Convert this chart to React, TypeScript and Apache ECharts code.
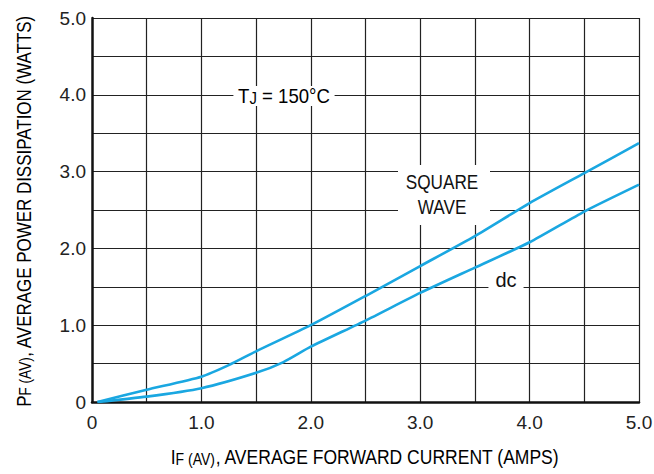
import React, { useEffect, useRef } from "react";
import * as echarts from "echarts";

const currentX = [0.05, 0.5, 1.0, 1.25, 1.5, 2.0, 2.5, 3.0, 3.5, 4.0, 4.5, 5.0];
const squareWave = [0, 0.16, 0.33, 0.48, 0.66, 1.0, 1.38, 1.77, 2.16, 2.59, 2.98, 3.37];
const dcX = [0.05, 0.5, 1.0, 1.5, 1.75, 2.0, 2.5, 3.0, 3.5, 4.0, 4.5, 5.0];
const dcValues = [0, 0.07, 0.18, 0.38, 0.52, 0.72, 1.06, 1.42, 1.75, 2.08, 2.48, 2.83];

const FONT = "'Liberation Sans', Arial, sans-serif";
const LINE_COLOR = "#1aa7e1";

const richSub = {
  m: { fontFamily: FONT, fontSize: 20, color: "#111", lineHeight: 20, verticalAlign: "top" as const },
  s: { fontFamily: FONT, fontSize: 16, color: "#111", lineHeight: 16, verticalAlign: "bottom" as const, padding: [9, 0, 0, 0] },
};

export default function App() {
  const ref = useRef<HTMLDivElement>(null);
  useEffect(() => {
    if (!ref.current) return;
    const chart = echarts.init(ref.current, undefined, { renderer: "svg" });
    const fmt = (v: number) => (Math.abs(v - Math.round(v)) < 1e-6 ? (v === 0 ? "0" : v.toFixed(1)) : "");
    chart.setOption({
      animation: false,
      backgroundColor: "#fff",
      grid: { left: 92, top: 18, right: 15, bottom: 72, outerBoundsMode: "none", containLabel: false },
      xAxis: {
        type: "value",
        min: 0,
        max: 5,
        interval: 0.5,
        axisLine: { show: true, lineStyle: { color: "#111", width: 2.5 } },
        axisTick: { show: false },
        splitLine: { show: true, showMinLine: false, showMaxLine: true, lineStyle: { color: "#222", width: 1.2 } },
        axisLabel: { formatter: fmt, fontFamily: FONT, fontSize: 19, color: "#222", margin: 11, showMaxLabel: true },
      },
      yAxis: {
        type: "value",
        min: 0,
        max: 5,
        interval: 0.5,
        axisLine: { show: true, lineStyle: { color: "#111", width: 2.5 } },
        axisTick: { show: false },
        splitLine: { show: true, showMinLine: false, showMaxLine: true, lineStyle: { color: "#222", width: 1.2 } },
        axisLabel: { formatter: fmt, fontFamily: FONT, fontSize: 19, color: "#222", margin: 6, showMaxLabel: true },
      },
      series: [
        {
          type: "line",
          name: "SQUARE WAVE",
          data: currentX.map((x, i) => [x, squareWave[i]]),
          showSymbol: false,
          smooth: 0.2,
          lineStyle: { color: LINE_COLOR, width: 2.6 },
          z: 5,
        },
        {
          type: "line",
          name: "dc",
          data: dcX.map((x, i) => [x, dcValues[i]]),
          showSymbol: false,
          smooth: 0.2,
          lineStyle: { color: LINE_COLOR, width: 2.6 },
          z: 5,
        },
      ],
      graphic: [
        {
          type: "text",
          x: 365,
          y: 457,
          scaleX: 0.876,
          z: 10,
          style: {
            text: "{m|I}{s|F (AV)}{m|, AVERAGE FORWARD CURRENT (AMPS)}",
            rich: richSub,
            align: "center",
            verticalAlign: "middle",
          },
        },
        {
          type: "group",
          x: 24,
          y: 211,
          rotation: Math.PI / 2,
          z: 10,
          children: [
            {
              type: "text",
              x: 0,
              y: 0,
              scaleX: 0.848,
              style: {
                text: "{m|P}{s|F (AV)}{m|, AVERAGE POWER DISSIPATION (WATTS)}",
                rich: richSub,
                align: "center",
                verticalAlign: "middle",
              },
            },
          ],
        },
        {
          type: "text",
          x: 284,
          y: 96,
          scaleX: 0.93,
          z: 10,
          style: {
            text: "{m|T}{s|J}{m| = 150°C}",
            rich: richSub,
            align: "center",
            verticalAlign: "middle",
            backgroundColor: "#fff",
            padding: [0, 5, 0, 5],
          },
        },
        {
          type: "rect",
          shape: { x: 398, y: 165, width: 92, height: 60 },
          style: { fill: "#fff" },
          z: 9,
        },
        {
          type: "text",
          x: 442,
          y: 195,
          scaleX: 0.86,
          z: 10,
          style: {
            text: "SQUARE\nWAVE",
            fontFamily: FONT,
            fontSize: 20,
            lineHeight: 25,
            fill: "#111",
            align: "center",
            verticalAlign: "middle",
          },
        },
        {
          type: "text",
          x: 506,
          y: 280,
          z: 10,
          style: {
            text: "dc",
            fontFamily: FONT,
            fontSize: 20,
            fill: "#111",
            align: "center",
            verticalAlign: "middle",
            backgroundColor: "#fff",
            padding: [2, 7, 2, 7],
          },
        },
      ],
    });
    return () => chart.dispose();
  }, []);
  return <div ref={ref} style={{ width: 654, height: 474, position: "absolute", left: 0, top: 0 }} />;
}
